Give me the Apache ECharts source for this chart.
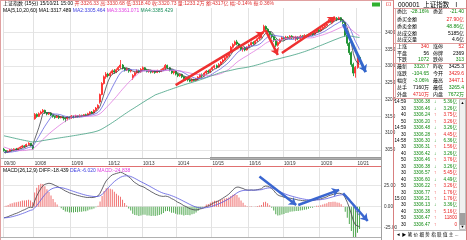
<!DOCTYPE html>
<html><head><meta charset="utf-8">
<script src="https://cdn.jsdelivr.net/npm/echarts@6/dist/echarts.min.js"></script>
<style>html,body{margin:0;padding:0;background:#fff;overflow:hidden}#c{width:467px;height:240px}</style>
</head><body><div id="c"></div>
<script>
// ---------- data (15-minute bars, [open, close, low, high]) ----------
const dayNames = ['09/30','10/08','10/09','10/12','10/13','10/14','10/15','10/16','10/19','10/20','10/21'];
const barTimes = ['09:45','10:00','10:15','10:30','10:45','11:00','11:15','11:30','13:15','13:30','13:45','14:00','14:15','14:30','14:45','15:00'];
const prevCloses = [3125,3130,3128,3133,3136,3134,3138,3135,3139,3141,3138,3142,
  3140,3132,3125,3118,3112,3105,3110,3102,3098,3095,3100,3096,3090,3094,3089,3092,
  3086,3090,3088,3094,3091,3087,3089,3093,3090,3086,3088,3092,3089,3087,3091,3090,
  3085,3076,3070,3064,3058,3061,3055,3050,3046,3049,3043,3040,3044,3039,3042,3038];
const sep30 = [[3052,3048,3045,3056],[3048,3044,3039.7,3050],[3044,3046,3041,3049],[3046,3051,3044,3053],[3051,3049,3046,3054],
  [3049,3053,3047,3055],[3053,3050,3048,3056],[3050,3055,3049,3057],[3055,3058,3053,3061],[3058,3062,3056,3065],
  [3062,3060,3057,3064],[3060,3066,3059,3069],[3066,3070,3064,3073],[3070,3063,3060,3071],[3063,3053,3051,3065]];
const oct08 = [[3143,3156,3140,3160],[3156,3150,3146,3159],[3150,3158,3148,3162],[3158,3163,3155,3167],[3163,3168,3160,3172],
  [3168,3161,3158,3170],[3161,3157,3153,3163],[3157,3160,3154,3162],[3160,3154,3151,3162],[3154,3150,3146,3156],
  [3150,3147,3143,3152],[3147,3151,3145,3153],[3151,3146,3142,3153],[3146,3149,3144,3151],[3149,3145,3138,3150],[3145,3143,3133,3147]];
const oct09 = [[3143,3148,3138,3151],[3148,3145,3141,3150],[3145,3151,3143,3154],[3151,3148,3144,3153],[3148,3152,3146,3155],
  [3152,3149,3147,3154],[3149,3153,3147,3156],[3153,3150,3148,3155],[3150,3155,3149,3157],[3155,3153,3150,3158],
  [3153,3158,3152,3161],[3158,3163,3156,3165],[3163,3160,3157,3166],[3160,3168,3159,3171],[3168,3175,3166,3178],[3175,3183,3173,3186]];
const oct12 = [[3193,3215,3188,3218],[3215,3248,3213,3252],[3248,3268,3245,3272],[3268,3276,3262,3282],[3276,3271,3266,3280],
  [3271,3279,3268,3284],[3279,3286,3275,3290],[3286,3282,3277,3291],[3282,3289,3279,3293],[3289,3296,3286,3300],
  [3296,3303,3292,3318],[3303,3294,3290,3306],[3294,3288,3284,3297],[3288,3292,3285,3295],[3292,3285,3280,3294],[3285,3287,3281,3290]];
const oct13 = [[3265,3272,3259,3276],[3272,3280,3269,3283],[3280,3286,3277,3290],[3286,3283,3279,3289],[3283,3290,3281,3294],
  [3290,3295,3287,3299],[3295,3289,3285,3297],[3289,3284,3281,3292],[3284,3287,3280,3290],[3287,3282,3278,3289],
  [3282,3285,3279,3288],[3285,3281,3277,3287],[3281,3286,3279,3289],[3286,3284,3280,3288],[3284,3289,3282,3292],[3289,3293,3286,3296]];
const oct14 = [[3293,3302,3288,3306],[3302,3295,3291,3304],[3295,3288,3284,3297],[3288,3280,3276,3290],[3280,3284,3275,3287],
  [3284,3276,3272,3286],[3276,3271,3267,3279],[3271,3275,3268,3277],[3275,3268,3264,3277],[3268,3262,3258,3270],
  [3262,3266,3256,3268],[3266,3259,3254,3268],[3259,3255,3252,3261],[3255,3260,3253,3263],[3260,3257,3254,3262],[3257,3262,3255,3264]];
const oct15 = [[3262,3267,3258,3270],[3267,3274,3264,3277],[3274,3271,3267,3278],[3271,3279,3269,3283],[3279,3285,3276,3288],
  [3285,3282,3278,3289],[3282,3290,3280,3293],[3290,3296,3287,3299],[3296,3301,3292,3304],[3301,3297,3293,3305],
  [3297,3305,3295,3309],[3305,3312,3302,3315],[3312,3318,3308,3322],[3318,3325,3315,3329],[3325,3331,3322,3334],[3331,3338,3328,3340]];
const oct16 = [[3345,3356,3342,3360],[3356,3364,3352,3368],[3364,3372,3360,3376],[3372,3366,3362,3378],[3366,3358,3354,3369],
  [3358,3350,3346,3361],[3350,3354,3343,3357],[3354,3348,3344,3357],[3348,3356,3346,3359],[3356,3363,3353,3366],
  [3363,3370,3360,3373],[3370,3367,3363,3374],[3367,3375,3365,3378],[3375,3381,3372,3384],[3381,3386,3378,3390],[3386,3391,3383,3394]];
const oct19 = [[3402,3418,3398,3423],[3418,3410,3405,3421],[3410,3401,3396,3413],[3401,3394,3389,3404],[3394,3387,3382,3397],
  [3387,3378,3372,3390],[3378,3362,3357,3381],[3362,3370,3358,3374],[3370,3378,3366,3382],[3378,3384,3375,3388],
  [3384,3380,3376,3388],[3380,3386,3378,3390],[3386,3383,3379,3389],[3383,3389,3380,3392],[3389,3384,3381,3392],[3384,3386,3380,3389]];
const oct20 = [[3380,3386,3374,3390],[3386,3382,3377,3389],[3382,3389,3379,3393],[3389,3385,3381,3392],[3385,3391,3383,3395],
  [3391,3388,3384,3394],[3388,3394,3386,3397],[3394,3398,3391,3401],[3398,3395,3390,3402],[3395,3402,3393,3405],
  [3402,3408,3399,3411],[3408,3405,3401,3412],[3405,3411,3403,3414],[3411,3416,3408,3419],[3416,3421,3413,3424],[3421,3425,3418,3426]];
const oct21 = [[3430,3436,3427,3440],[3436,3432,3429,3439],[3432,3438,3430,3442],[3438,3442,3435,3445],[3442,3439,3434,3446],
  [3439,3444,3437,3447.1],[3444,3436,3431,3446],[3436,3430,3425,3439],[3430,3392,3388,3432],[3392,3368,3360,3396],
  [3368,3340,3333,3372],[3340,3305,3298,3344],[3305,3279,3270,3310],[3279,3296,3265.4,3300],[3296,3326,3292,3330],[3326,3320.7,3318,3331]];
const totalSlots = 185;
const xTickIdx = [0,15,33,51,68,85,102,120,137,155,173];
const xTickLabels = ['09/30','10/08','10/09','10/12','10/13','10/14','10/15','10/16','10/19','10/20','10/21'];
const priceTicks = [3050,3100,3150,3200,3250,3300,3350,3400];
const macdTicks = [-25,0,25];
// annotation arrows [x0,y0,x1,y1] in data space
const redArrows = [[84,3243,127,3401],[128,3407,134,3333],[136,3339,162,3446]];
const blueArrowsMain = [[166,3425,177,3282]];
const blueArrowsMacd = [[125,36,143,2],[144,2,164,20],[166,16,177.5,-17]];
const lettersMain = [['A',166,3456,'#ee3333']];
const lettersMacd = [['A',121,36.5,'#4a6fd0'],['B',144,-12,'#4a6fd0'],['C',167,25.5,'#ee3333'],['D',178,-26,'#4a6fd0']];

// ---------- derived series ----------
const dayBars = [sep30,oct08,oct09,oct12,oct13,oct14,oct15,oct16,oct19,oct20,oct21];
const cats = [], ohlc = [];
dayBars.forEach((bars,d)=>{
  const times = barTimes.slice(barTimes.length - bars.length);
  bars.forEach((b,i)=>{ cats.push(dayNames[d]+' '+times[i]); ohlc.push(b); });
});
for (let i = ohlc.length; i < totalSlots; i++) cats.push('slot'+i);
const closes = ohlc.map(b=>b[1]);
const lastClose = closes[closes.length-1];
const allC = prevCloses.concat(closes), off = prevCloses.length;
function ma(n){ return closes.map((c,i)=>{ let s=0; for(let k=0;k<n;k++) s+=allC[off+i-k]; return +(s/n).toFixed(2); }); }
let e12=allC[0], e26=allC[0], dea=0; const diffA=[], deaA=[], histA=[];
allC.forEach((c,i)=>{
  if(i>0){ e12=e12*11/13+c*2/13; e26=e26*25/27+c*2/27; }
  const dif=e12-e26; dea=dea*0.8+dif*0.2;
  if(i>=off){ diffA.push(+dif.toFixed(3)); deaA.push(+dea.toFixed(3)); histA.push(+(2*(dif-dea)).toFixed(3)); }
});
const tickSet = new Set(xTickIdx);
const labelMap = {}; xTickIdx.forEach((ix,k)=>labelMap[ix]=xTickLabels[k]);

const FF = '"Liberation Sans","Noto Sans CJK SC",sans-serif';
const C_RED='#e82020', C_GRN='#108a10';

function T(x,y,s,fill,align,size){
  return {type:'text', x:x, y:y, silent:true, z:100,
    style:{text:s, fill:fill||'#000', font:(size||5)+'px '+FF, textAlign:align||'left', textVerticalAlign:'middle'}};
}
function L(x1,y1,x2,y2,stroke,w){ return {type:'line', silent:true, z:90, shape:{x1,y1,x2,y2}, style:{stroke:stroke||'#ccc', lineWidth:w||1}}; }
function R(x,y,w,h,fill,stroke){ return {type:'rect', silent:true, z:80, shape:{x,y,width:w,height:h}, style:{fill:fill||'none', stroke:stroke||'none', lineWidth:1}}; }

// ---------- right panel ----------
const panelRows = [
  [12, '委比','-28.16%',C_GRN,'委差','-21.40',C_GRN],
  [19.5, '委买金额',null,null,null,'27.90亿',C_RED],
  [26.5, '委卖金额',null,null,null,'48.86亿',C_GRN],
  [33.5, '总成交额',null,null,null,'5185亿','#000'],
  [40, '总成交量',null,null,null,'4.6亿','#000'],
  [47, '上涨','340',C_RED,'涨停','52',C_RED],
  [53.5, '平盘','56','#000','停牌','2369','#000'],
  [60, '下跌','1072',C_GRN,'跌停','313',C_GRN],
  [67, '最新','3320.7',C_GRN,'昨收','3425.3','#000'],
  [74, '涨跌','-104.65',C_GRN,'今开','3429.6',C_RED],
  [81, '幅度','-3.06%',C_GRN,'最高','3447.1',C_RED],
  [88, '总手','7160万','#000','最低','3265.4',C_GRN],
  [94.5, '外盘','4710万',C_RED,'内盘','7672万',C_GRN]
];
const tickRows = [
  ['14:59','3306.38','↓','5.36亿'],['30','3306.46','↓','3.26亿'],['40','3306.24','↑','3.75亿'],['50','3306.20','↑','3.26亿'],
  ['14:59','3306.48','↓','3.26亿'],['30','3306.28','↑','4.45亿'],['14:58','3306.30','↓','6.36亿'],['30','3306.31','↑','1.56亿'],
  ['40','3306.42','↓','3.26亿'],['50','3306.46','↑','3.76亿'],['30','3306.38','↓','3.26亿'],['30','3306.57','↑','5.45亿'],
  ['40','3306.60','↓','4.49亿'],['50','3306.22','↑','3.26亿'],['30','3306.77','↑','1.76亿'],['15:00','3306.21','↑','1.76亿'],
  ['30','3306.13','↓','3.36亿'],['40','3306.38','↑','5.16亿'],['50','3306.47','↑','11800'],['30','3306.47','↑','0']
];
const g = [];
g.push(L(0.5,0,0.5,240,'#e0a0a0',1));
g.push(L(0,0.5,393,0.5,'#e0a0a0',1));
g.push(L(381.5,0,381.5,240,'#a0a0a0',1));
g.push(L(393.5,0,393.5,240,'#d88080',1));
g.push(L(466.5,0,466.5,240,'#d88080',1));
g.push(L(0,158.5,381,158.5,'#b0b0b0',1));
g.push(R(210,157,171,3,'#9a9a9a'));
g.push(L(0,166.5,381,166.5,'#e07070',1));
g.push(L(0,237.5,381,237.5,'#b0b0b0',1));
// header
g.push({type:'text', x:3, y:4, silent:true, z:100, style:{font:'5px '+FF, textVerticalAlign:'middle',
  text:'{k|上证指数 (15分) 15/10/21 15:00 }{r|开:3326.33 }{r|高:3330.68 }{r|低:3318.40 }{r|收:3320.73 }{r|量:1233.2万 }{r|额:4317亿 }{r|幅:-0.14% }{r|振:0.36%}',
  rich:{k:{fill:'#000',font:'5px '+FF}, r:{fill:'#e03030',font:'5px '+FF}}}});
g.push({type:'text', x:3, y:10.5, silent:true, z:100, style:{font:'5px '+FF, textVerticalAlign:'middle',
  text:'{k|MA(5,10,20,60) }{k|MA1:3317.489 }{b|MA2:3305.464 }{m|MA3:3361.071 }{gr|MA4:3385.429}',
  rich:{k:{fill:'#000',font:'5px '+FF}, b:{fill:'#4040e0',font:'5px '+FF}, m:{fill:'#e040e0',font:'5px '+FF}, gr:{fill:'#209060',font:'5px '+FF}}}});
// macd title
g.push({type:'text', x:3, y:170.5, silent:true, z:100, style:{font:'5px '+FF, textVerticalAlign:'middle',
  text:'{k|MACD(26,12,9) }{k|DIFF:-18.439 }{b|DEA:-6.020 }{m|MACD:-24.838}',
  rich:{k:{fill:'#000',font:'5px '+FF}, b:{fill:'#4040e0',font:'5px '+FF}, m:{fill:'#e040e0',font:'5px '+FF}}}});
// panel
g.push(R(372,2.5,8,4,'#30b030'));
g.push(T(388,4.5,'⊡',C_RED,'center',6));
g.push(T(398,5,'000001  上证指数  Ⅰ','#000','left',6.5));
[8.5,43.5,63.5,98.5].forEach(y=>g.push(L(394,y,466,y,'#e0a0a0',1)));
g.push(L(395.5,8.5,395.5,98.5,'#e0b0b0',1));
panelRows.forEach(r=>{
  const y=r[0];
  g.push(T(397,y,r[1],'#000','left',5));
  if(r[2]!==null) g.push(T(429,y,r[2],r[3],'right',5));
  if(r[4]!==null) g.push(T(433,y,r[4],'#000','left',5));
  g.push(T(464,y,r[5],r[6],'right',5));
});
tickRows.forEach((r,i)=>{
  const y=102+i*6.45;
  g.push(T(406,y,r[0],'#000','right',4.6));
  g.push(T(430,y,r[1],C_GRN,'right',4.6));
  g.push(T(434,y,r[2],r[2]==='↑'?C_RED:C_GRN,'left',4.6));
  g.push(T(457,y,r[3],r[2]==='↑'?C_RED:C_GRN,'right',4.6));
});
g.push(R(459.5,99.5,6,130,'#f0f0f0','#c0c0c0'));
g.push(R(459.5,213,6,12,'#a0a0a0'));
g.push(T(462.5,103,'▲','#000','center',4));
g.push(T(462.5,227,'▼','#000','center',4));
g.push(L(394,230.5,466,230.5,'#c0c0c0',1));
g.push(T(396,234.5,'◄ ▶ 笔 价 细 势 指 联 值 主 ...','#000','left',4.6));

// ---------- chart ----------
const chart = echarts.init(document.getElementById('c'), null, {renderer:'canvas'});
const axFont = {fontSize:4.6, fontFamily:'Liberation Sans', color:'#333'};
const arrowLines = (arr,color,w)=>arr.map(a=>[{coord:[a[0],a[1]], lineStyle:{color:color,width:w,type:'solid'}},{coord:[a[2],a[3]]}]);
const letterPts = (arr,size)=>arr.map(a=>({coord:[a[1],a[2]], symbol:'none', label:{show:true, formatter:a[0], color:a[3], fontSize:size, fontFamily:'Liberation Sans'}}));
chart.setOption({
  animation:false,
  backgroundColor:'#fff',
  grid:[{left:3, top:8, width:378, height:150}, {left:3, top:168, width:378, height:69}],
  xAxis:[
    {type:'category', gridIndex:0, data:cats, boundaryGap:true,
     axisLine:{show:false}, axisTick:{show:false},
     axisLabel:Object.assign({interval:(i)=>tickSet.has(i), formatter:(v,i)=>labelMap[i]||'', align:'left', margin:3}, axFont),
     splitLine:{show:true, interval:(i)=>tickSet.has(i), lineStyle:{color:'#e2e2e2', width:1}}},
    {type:'category', gridIndex:1, data:cats, boundaryGap:true,
     axisLine:{show:false}, axisTick:{show:false}, axisLabel:{show:false},
     splitLine:{show:true, interval:(i)=>tickSet.has(i), lineStyle:{color:'#e2e2e2', width:1}}}
  ],
  yAxis:[
    {type:'value', gridIndex:0, position:'right', min:3026, max:3473, scale:true,
     axisLine:{show:false}, axisTick:{show:false, customValues:priceTicks},
     axisLabel:Object.assign({customValues:priceTicks, margin:4, formatter:(v)=>String(v)}, axFont),
     splitLine:{show:true, lineStyle:{color:'#e6e6e6', width:1}}},
    {type:'value', gridIndex:1, position:'right', min:-36, max:46,
     axisLine:{show:false}, axisTick:{show:false, customValues:macdTicks},
     axisLabel:Object.assign({customValues:macdTicks, margin:3, formatter:(v)=>v.toFixed(2)}, axFont),
     splitLine:{show:true, lineStyle:{color:'#e6e6e6', width:1}}}
  ],
  series:[
    {type:'candlestick', name:'K', xAxisIndex:0, yAxisIndex:0, data:ohlc, barWidth:1.5,
     itemStyle:{color:'#ff3030', color0:'#0a8a20', borderColor:'#ff2020', borderColor0:'#0a8a20', borderWidth:0.8},
     markPoint:{silent:true, animation:false, symbol:'none',
       data:[{type:'max', valueDim:'highest', symbol:'none', label:{show:true, position:'left', distance:3, formatter:(p)=>p.value.toFixed(2)+'—', color:'#333', fontSize:4.6, fontFamily:'Liberation Sans'}},
             {type:'min', valueDim:'lowest', symbol:'none', label:{show:true, position:'right', distance:2, formatter:(p)=>'←'+p.value.toFixed(2), color:'#333', fontSize:4.6, fontFamily:'Liberation Sans'}}]
             .concat(letterPts(lettersMain,10))},
     markLine:{silent:true, animation:false, symbol:['none','arrow'], symbolSize:7, label:{show:false},
       data: arrowLines(redArrows,'#ee3030',2.5).concat(arrowLines(blueArrowsMain,'#3366cc',3))
         .concat([{yAxis:lastClose, symbol:'none', lineStyle:{opacity:0},
           label:{show:true, position:'end', distance:4, formatter:String(Math.floor(lastClose)), color:'#e82020', fontSize:4.6, fontFamily:'Liberation Sans'}}])}},
    {type:'line', name:'MA5', data:ma(5), xAxisIndex:0, yAxisIndex:0, showSymbol:false, silent:true, lineStyle:{width:0.8, color:'#404048'}},
    {type:'line', name:'MA10', data:ma(10), xAxisIndex:0, yAxisIndex:0, showSymbol:false, silent:true, lineStyle:{width:0.8, color:'#6464e0'}},
    {type:'line', name:'MA20', data:ma(20), xAxisIndex:0, yAxisIndex:0, showSymbol:false, silent:true, lineStyle:{width:0.8, color:'#e07ae0'}},
    {type:'line', name:'MA60', data:ma(60), xAxisIndex:0, yAxisIndex:0, showSymbol:false, silent:true, lineStyle:{width:0.8, color:'#40a080'}},
    {type:'bar', name:'MACD', xAxisIndex:1, yAxisIndex:1, barWidth:0.8, silent:true,
     data:histA.map(v=>({value:v, itemStyle:{color: v>=0 ? '#f07070' : '#50a850'}}))},
    {type:'line', name:'DIFF', xAxisIndex:1, yAxisIndex:1, data:diffA, showSymbol:false, silent:true, lineStyle:{width:0.8, color:'#404048'},
     markPoint:{silent:true, animation:false, symbol:'none', data:letterPts(lettersMacd,9)},
     markLine:{silent:true, animation:false, symbol:['none','arrow'], symbolSize:7, label:{show:false}, data:arrowLines(blueArrowsMacd,'#3a66d0',2.5)}},
    {type:'line', name:'DEA', xAxisIndex:1, yAxisIndex:1, data:deaA, showSymbol:false, silent:true, lineStyle:{width:0.8, color:'#5a5ae0'}}
  ],
  graphic:{elements:g}
});
</script></body></html>
